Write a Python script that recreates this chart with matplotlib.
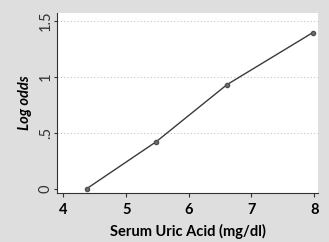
import numpy as np
import matplotlib.pyplot as plt

# values
uric_acid = [4.37, 5.48, 6.61, 7.98]
log_odds = [0.0, 0.42, 0.93, 1.395]
x_ticks = [4, 5, 6, 7, 8]
y_ticks = [0, 0.5, 1, 1.5]
y_tick_labels = ["0", ".5", "1", "1.5"]

fig = plt.figure(figsize=(3.29, 2.42), dpi=100, facecolor="#dedede")
ax = fig.add_axes([0.173, 0.2025, 0.794, 0.7435])
ax.set_facecolor("white")

ax.plot(uric_acid, log_odds, color="#3a3a3a", lw=1.0, marker="o",
        markersize=3, markerfacecolor="#707070", markeredgecolor="#505050")

ax.set_xlim(3.896, 8.064)
ax.set_ylim(-0.038, 1.569)

for y in y_ticks[1:]:
    ax.axhline(y, color="#c4c4c4", lw=0.8, ls=(0, (1, 2)), zorder=0)

ax.set_xticks(x_ticks)
ax.set_xticklabels([str(t) for t in x_ticks], fontsize=10.5, fontweight="bold",
                   family="Lato")
ax.set_yticks(y_ticks)
ax.set_yticklabels(y_tick_labels, fontsize=10.5, rotation=90, va="center",
                   family="Lato", color="#333333")

ax.tick_params(axis="x", length=3, width=0.8, color="#333333", pad=4)
ax.tick_params(axis="y", length=2, width=0.8, color="#333333", pad=1)

for s in ["top", "right"]:
    ax.spines[s].set_visible(False)
for s in ["left", "bottom"]:
    ax.spines[s].set_color("#333333")
    ax.spines[s].set_linewidth(0.8)

ax.set_xlabel("Serum Uric Acid (mg/dl)", fontsize=10.5, fontweight="bold",
              family="Lato", labelpad=5)
ax.set_ylabel("Log odds", fontsize=10.5, fontweight="bold", style="italic",
              family="Lato", labelpad=5)

fig.savefig("out.png", dpi=100, facecolor=fig.get_facecolor())
